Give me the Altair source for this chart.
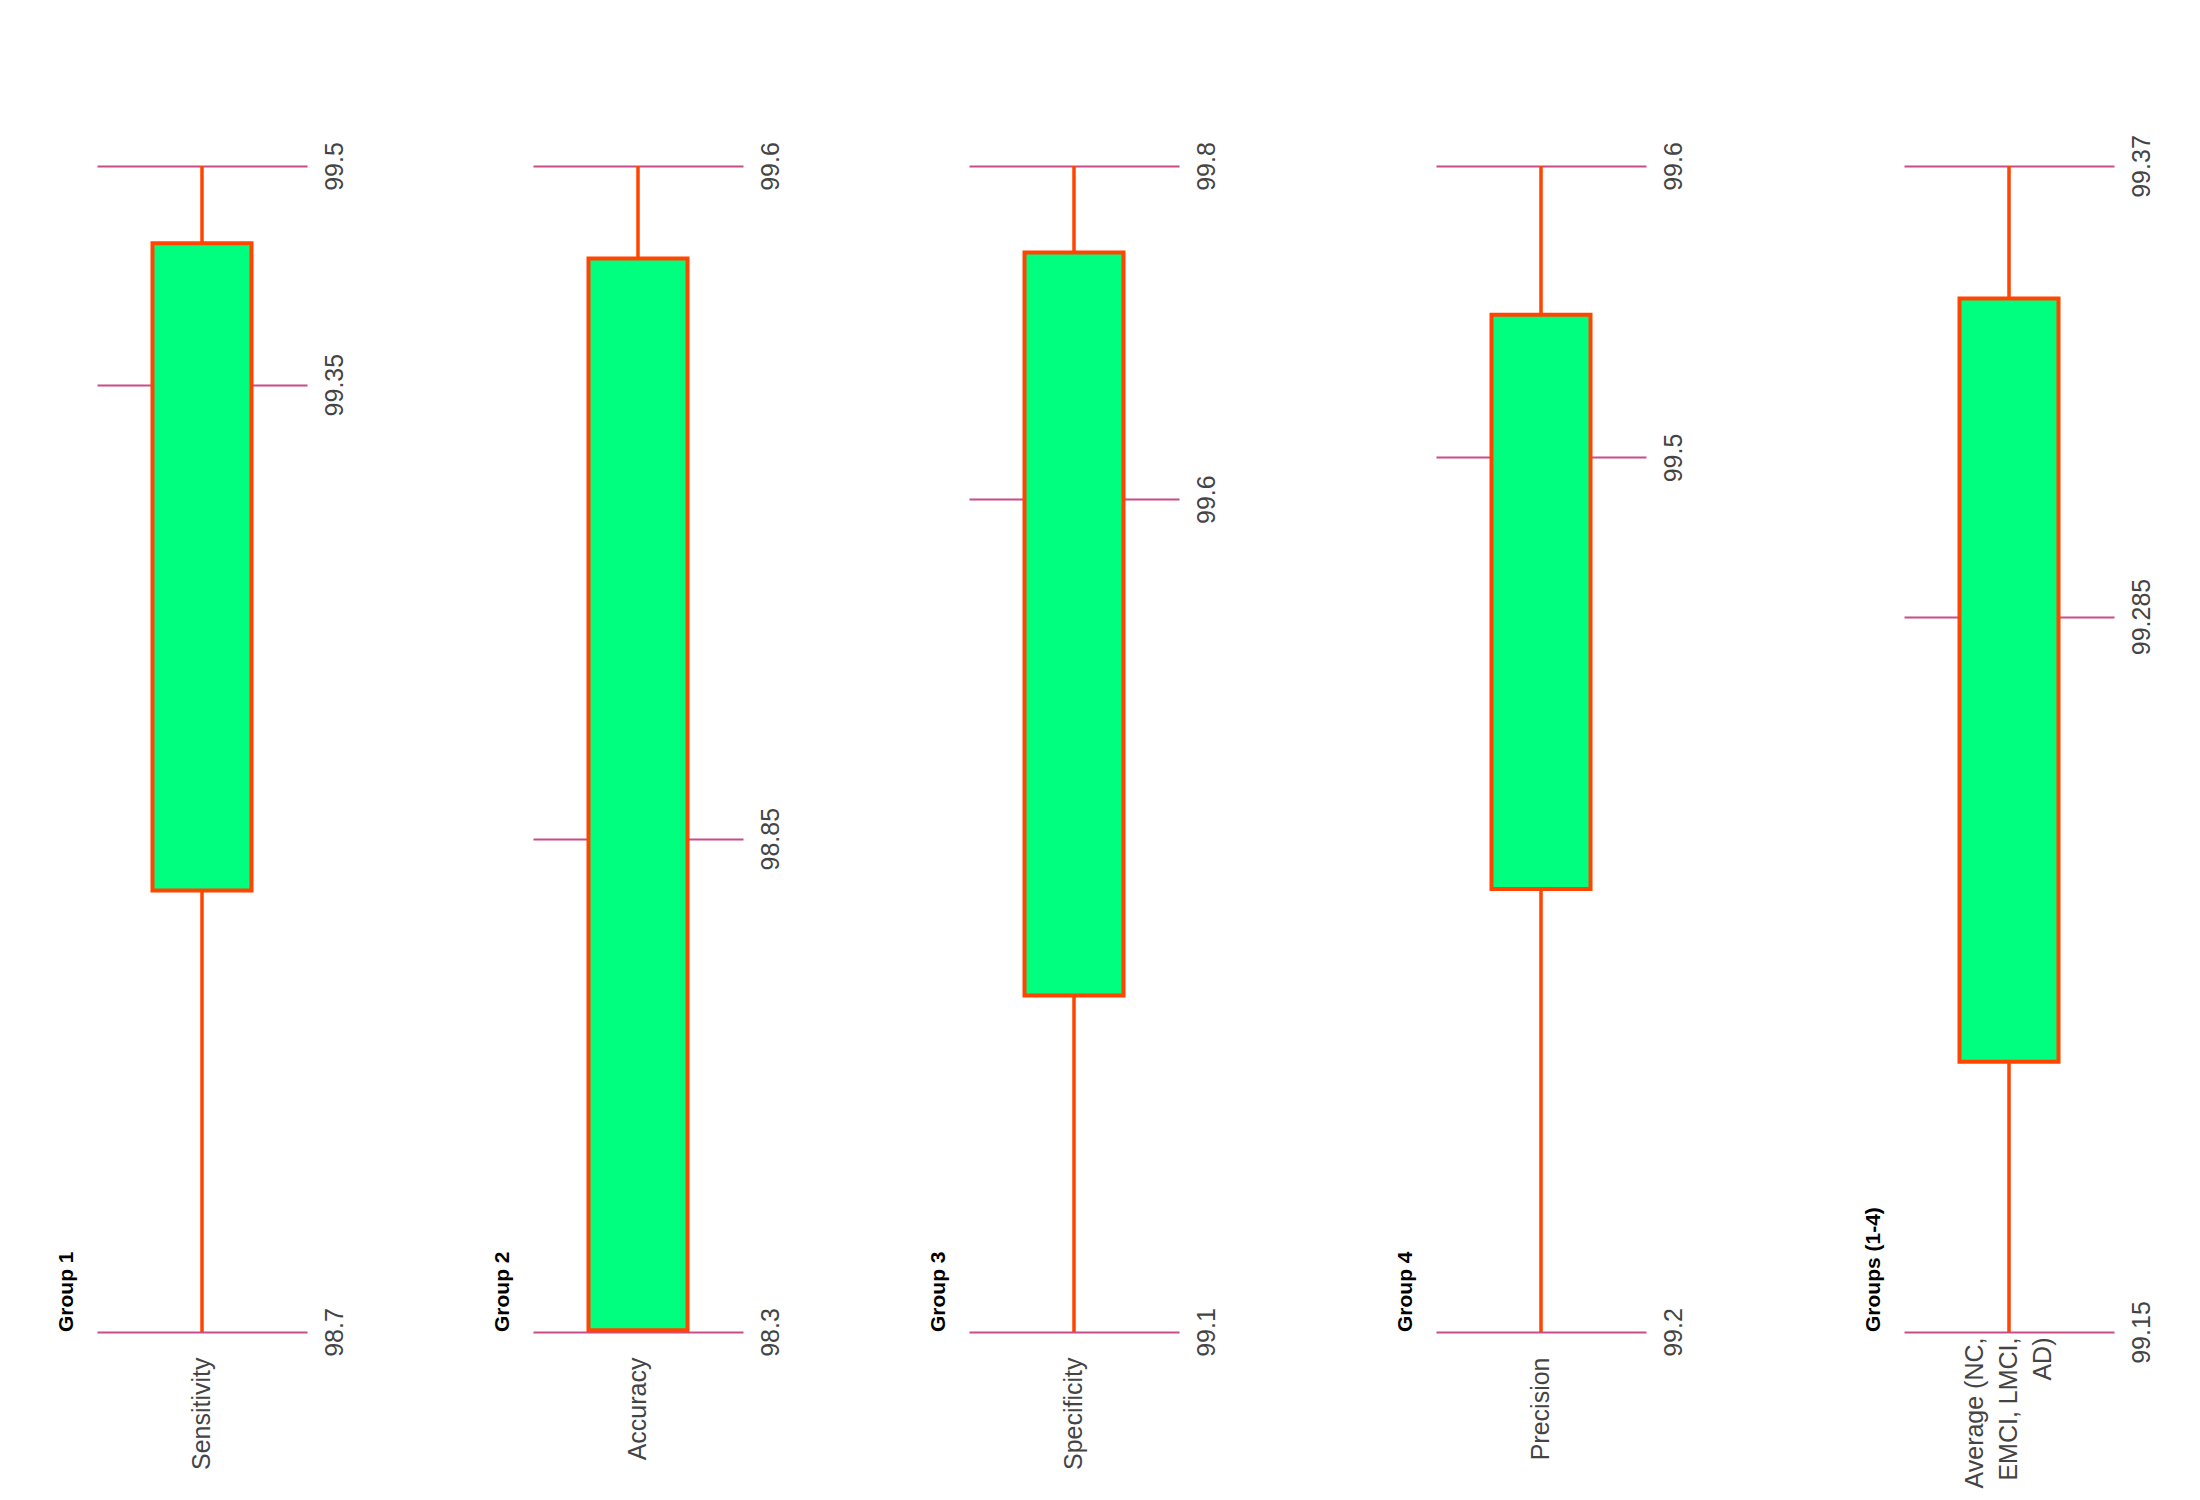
import altair as alt
import pandas as pd

# ---- data ----
groups = ["Group 1", "Group 2", "Group 3", "Group 4", "Groups (1-4)"]
metric_lines = [
    ["Sensitivity"],
    ["Accuracy"],
    ["Specificity"],
    ["Precision"],
    ["Average (NC,", "EMCI, LMCI,", "AD)"],
]
mins = [98.7, 98.3, 99.1, 99.2, 99.15]
q1s = [99.003, 98.302, 99.302, 99.352, 99.201]
mids = [99.35, 98.85, 99.6, 99.5, 99.285]
q3s = [99.447, 99.497, 99.748, 99.549, 99.345]
maxs = [99.5, 99.6, 99.8, 99.6, 99.37]

# ---- styles ----
FONT = "Liberation Sans"
BOX_FILL = "#00FF7F"
BOX_STROKE = "#FF4500"
GRID = "#C94C8A"
LABEL = "#444444"
LINE_H = 34


def panel(i):
    name = "\n".join(metric_lines[i])
    n_lines = len(metric_lines[i])
    df = pd.DataFrame({
        "metric": [name],
        "lo": [mins[i]],
        "q1": [q1s[i]],
        "q3": [q3s[i]],
        "hi": [maxs[i]],
    })
    yscale = alt.Scale(domain=[mins[i], maxs[i]], nice=False, zero=False)
    yaxis = alt.Axis(
        orient="right", values=[mins[i], mids[i], maxs[i]],
        grid=True, gridColor=GRID, gridWidth=2, gridOpacity=1,
        domain=False, ticks=False,
        labelAngle=270, labelAlign="center", labelBaseline="top",
        labelPadding=15, labelFontSize=25, labelColor=LABEL, labelFont=FONT,
        labelExpr="'' + datum.value", labelOverlap=False,
        title=" ", titleX=0, titleY=-40, titleAngle=0, titleFontSize=10,
        titleAlign="center", titleBaseline="bottom",
    )
    xaxis = alt.Axis(
        domain=False, ticks=False, labelAngle=270,
        labelAlign="right", labelBaseline="middle",
        labelPadding=25 if n_lines == 1 else 5,
        labelOffset=-(n_lines - 1) * LINE_H / 2,
        labelFontSize=25, labelColor=LABEL,
        labelFont=FONT, labelLineHeight=LINE_H, labelLimit=0,
        labelExpr="split(datum.label, '\\n')", title=None,
    )
    xenc = alt.X("metric:N", scale=alt.Scale(paddingInner=0, paddingOuter=0), axis=xaxis)
    base = alt.Chart(df)
    whisker = base.mark_rule(color=BOX_STROKE, strokeWidth=3.5).encode(
        x=xenc, y=alt.Y("lo:Q", scale=yscale, axis=yaxis), y2="hi:Q"
    )
    box = base.mark_bar(size=99, fill=BOX_FILL, stroke=BOX_STROKE,
                        strokeWidth=4, opacity=1).encode(
        x="metric:N", y="q1:Q", y2="q3:Q"
    )
    return alt.layer(whisker, box).properties(
        width=210, height=1166,
        title=alt.TitleParams(
            groups[i], orient="left", anchor="start", frame="group",
            fontSize=21, fontWeight="bold", color="#000000", font=FONT, offset=20,
        ),
    )


panels = [panel(i) for i in range(5)]
inner = alt.hconcat(panels[0], panels[1], panels[2], spacing=145)
chart = alt.hconcat(inner, panels[3], panels[4], spacing=176).properties(
    padding={"left": 56, "top": 116, "right": 5, "bottom": 5},
    background="#FFFFFF",
).configure_view(stroke=None)

chart.save("out.html", embed_options={"renderer": "svg", "actions": False})
